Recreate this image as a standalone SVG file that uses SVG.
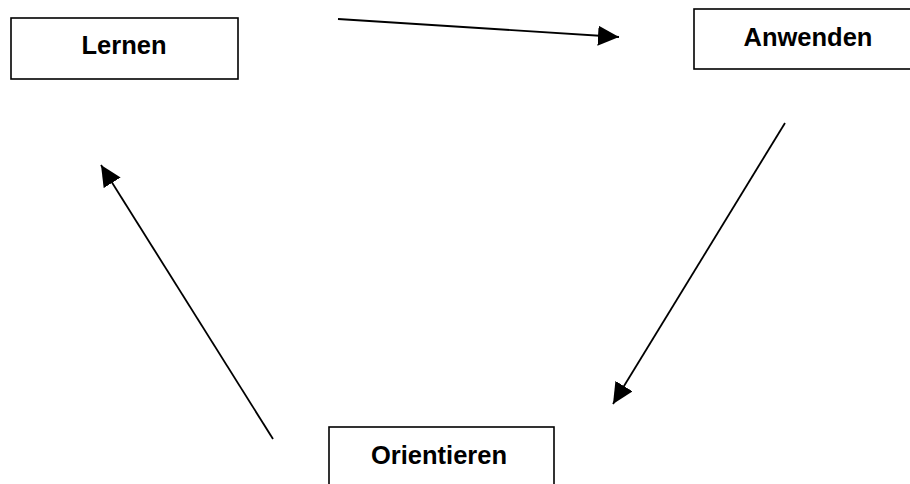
<svg xmlns="http://www.w3.org/2000/svg" width="910" height="484" viewBox="0 0 910 484">
  <style>
    .box { fill: #ffffff; stroke: #000000; stroke-width: 1.6; }
    .label { font-family: "Liberation Sans", Arial, sans-serif; font-weight: bold; font-size: 25.5px; fill: #000000; text-anchor: middle; }
    .link { stroke: #000000; stroke-width: 1.8; fill: none; marker-end: url(#head); }
  </style>
  <defs>
    <marker id="head" viewBox="0 0 21 20" refX="21" refY="10" markerWidth="21" markerHeight="20" markerUnits="userSpaceOnUse" orient="auto">
      <path d="M0,0 L21,10 L0,20 Z" fill="#000000"/>
    </marker>
  </defs>
  <rect width="910" height="484" fill="#ffffff"/>

  <g id="lernen">
    <rect class="box" x="11" y="18" width="227" height="61"/>
    <text class="label" x="124" y="54">Lernen</text>
  </g>

  <g id="anwenden">
    <rect class="box" x="694" y="9" width="230" height="60"/>
    <text class="label" x="808" y="46">Anwenden</text>
  </g>

  <g id="orientieren">
    <rect class="box" x="329" y="427" width="225" height="70"/>
    <text class="label" x="439" y="464">Orientieren</text>
  </g>

  <g id="connectors">
    <line class="link" x1="338" y1="19" x2="619" y2="37"/>
    <line class="link" x1="785" y1="123" x2="613" y2="404"/>
    <line class="link" x1="273" y1="439" x2="101" y2="165"/>
  </g>
</svg>
